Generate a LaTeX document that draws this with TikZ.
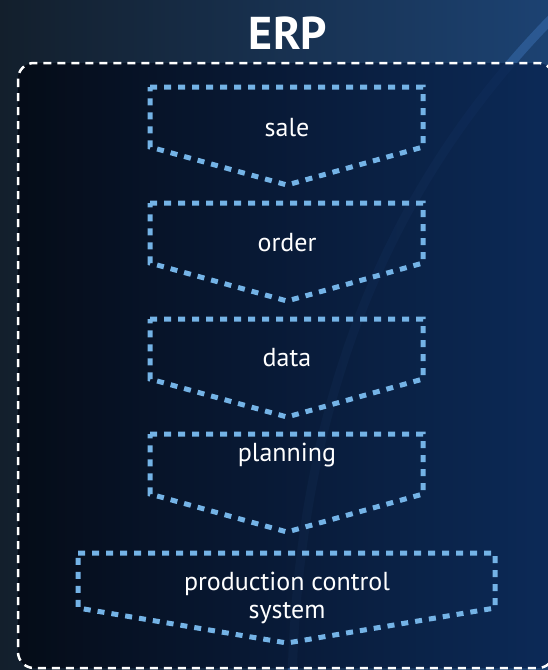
\documentclass[tikz,border=0pt]{standalone}
\usepackage{fontspec}
\setmainfont{PT Sans}
\usetikzlibrary{positioning}
\definecolor{erpdot}{HTML}{74B3E6}
\definecolor{erpbgleft}{HTML}{131F2C}
\definecolor{erpbgright}{HTML}{1C4272}
\definecolor{erpinleft}{HTML}{030914}
\definecolor{erpinright}{HTML}{0A2654}
\definecolor{erparc}{HTML}{3568A8}
\begin{document}
\begin{tikzpicture}[x=1pt,y=-1pt,
chevron/.style={erpdot,line width=5pt,dash pattern=on 7pt off 7pt},
frame/.style={white,line width=2.5pt,dash pattern=on 8pt off 6pt,rounded corners=16pt},
boxtext/.style={text=white,font=\fontsize{26}{28}\selectfont,align=center,inner sep=0pt}]
\clip (0,0) rectangle (548,670);
\shade[left color=erpbgleft,right color=erpbgright] (0,0) rectangle (548,670);
\draw[erparc,line width=9pt,opacity=.6] (560,10) .. controls (400,170) and (300,380) .. (292,680);
\shade[left color=erpinleft,right color=erpinright,opacity=.85,rounded corners=16pt] (18,63) rectangle (554,668);
\node[text=white,font=\bfseries\fontsize{46}{50}\selectfont,inner sep=0pt] (title) at (288,33) {ERP};
\foreach \ytop/\ytext/\nm/\txt in {87/128/sale/sale,203/243/order/order,319/358/data/data,434/455/planning/planning}{
  \draw[chevron] (150,\ytop) -- (423,\ytop) -- (423,{\ytop+60}) -- (287,{\ytop+98}) -- (150,{\ytop+60}) -- cycle;
  \node[boxtext] (\nm) at (287,\ytext) {\txt};
}
\draw[chevron] (78,553) -- (495,553) -- (495,608) -- (287,643) -- (78,608) -- cycle;
\node[boxtext] (pcs) at (287,598) {production control\\system};
\draw[frame] (18,63) rectangle (554,668);
\end{tikzpicture}
\end{document}
